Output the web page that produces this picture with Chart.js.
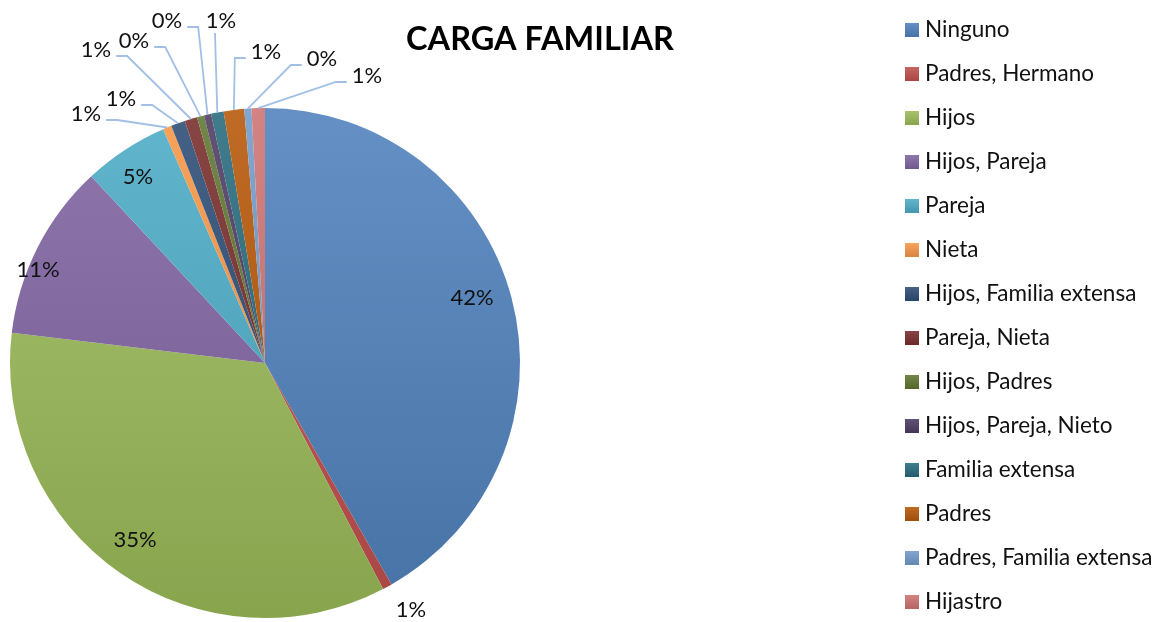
<!DOCTYPE html>
<html lang="es">
<head>
<meta charset="UTF-8">
<title>Carga familiar</title>
<style>
    body { margin: 0; background: #fff; }
    #wrap { position: relative; width: 1165px; height: 622px; }
</style>
</head>
<body>
<div id="wrap"><canvas id="chart"></canvas></div>

<script src="https://cdn.jsdelivr.net/npm/chart.js"></script>
<script>
    const categories = ['Ninguno', 'Padres, Hermano', 'Hijos', 'Hijos, Pareja', 'Pareja', 'Nieta',
        'Hijos, Familia extensa', 'Pareja, Nieta', 'Hijos, Padres', 'Hijos, Pareja, Nieto',
        'Familia extensa', 'Padres', 'Padres, Familia extensa', 'Hijastro'];
    // percent of people
    const shares = [41.8, 0.6, 34.6, 11.2, 5.4, 0.55, 0.9, 0.8, 0.45, 0.45, 0.8, 1.3, 0.45, 0.85];
    const colors = ['#4F81BD', '#C0504D', '#9BBB59', '#8064A2', '#4BACC6', '#F79646', '#2C4D75',
        '#772C2A', '#5F7530', '#4D3B62', '#276A7C', '#B65708', '#729ACA', '#CD7371'];

    // where each percent label sits, relative to the pie centre; side = where the leader leaves from
    const labelSpots = [
        { dx: 207, dy: -65 }, { dx: 146, dy: 247 }, { dx: -130, dy: 177 }, { dx: -227, dy: -93 },
        { dx: -127, dy: -186 },
        { dx: -179, dy: -249, side: 'L' }, { dx: -144, dy: -264, side: 'L' },
        { dx: -169, dy: -313, side: 'L' }, { dx: -131, dy: -322, side: 'L' },
        { dx: -98, dy: -342, side: 'L' }, { dx: -44, dy: -342, side: 'V' },
        { dx: 1, dy: -311, side: 'R' }, { dx: 57, dy: -304, side: 'R' }, { dx: 102, dy: -287, side: 'R' }
    ];

    const FONT = 'Lato, "Liberation Sans", sans-serif';

    function shade(hex, amt) {
        const n = parseInt(hex.slice(1), 16);
        let r = n >> 16, g = (n >> 8) & 255, b = n & 255;
        const f = c => amt >= 0 ? Math.round(c + (255 - c) * amt) : Math.round(c * (1 + amt));
        return `rgb(${f(r)}, ${f(g)}, ${f(b)})`;
    }

    const total = shares.reduce((a, b) => a + b, 0);

    const overlay = {
        id: 'overlay',
        afterDatasetsDraw(chart) {
            const c = chart.ctx;
            const arcs = chart.getDatasetMeta(0).data;
            c.save();
            c.font = '22px ' + FONT;
            c.textAlign = 'center';
            c.textBaseline = 'middle';
            arcs.forEach((arc, i) => {
                const { x, y, startAngle, endAngle, outerRadius } = arc.getProps(['x', 'y', 'startAngle', 'endAngle', 'outerRadius']);
                const spot = labelSpots[i];
                const lx = x + spot.dx, ly = y + spot.dy;
                const text = Math.round(shares[i] / total * 100) + '%';
                if (spot.side) {
                    const mid = (startAngle + endAngle) / 2;
                    const ax = x + Math.cos(mid) * outerRadius;
                    const ay = y + Math.sin(mid) * outerRadius;
                    const w = c.measureText(text).width;
                    c.strokeStyle = '#A2BFE6';
                    c.lineWidth = 1.8;
                    c.beginPath();
                    if (spot.side === 'V') {
                        c.moveTo(lx - 6, ly + 12);
                        c.lineTo(ax, ay);
                    } else {
                        const dir = spot.side === 'L' ? 1 : -1;
                        const sx = lx + dir * (w / 2 + 5), sy = ly + 6;
                        c.moveTo(sx, sy);
                        c.lineTo(sx + dir * 11, sy);
                        c.lineTo(ax, ay);
                    }
                    c.stroke();
                }
                c.fillStyle = '#111';
                c.fillText(text, lx, ly);
            });
            c.restore();
        },
        afterDraw(chart) {
            const c = chart.ctx;
            c.save();
            c.fillStyle = '#000';
            c.textAlign = 'center';
            c.textBaseline = 'middle';
            c.font = 'bold 32.5px ' + FONT;
            c.fillText('CARGA FAMILIAR', 540, 40);

            c.font = '22.5px ' + FONT;
            c.textAlign = 'left';
            categories.forEach((name, i) => {
                const y = 30 + i * 44;
                const g = c.createLinearGradient(0, y - 7, 0, y + 7);
                g.addColorStop(0, shade(colors[i], 0.12));
                g.addColorStop(1, shade(colors[i], -0.12));
                c.fillStyle = g;
                c.fillRect(905, y - 7, 14, 14);
                c.fillStyle = '#111';
                c.fillText(name, 925, y);
            });
            c.restore();
        }
    };

    new Chart(document.getElementById('chart'), {
        type: 'pie',
        data: {
            labels: categories,
            datasets: [{
                data: shares,
                backgroundColor: ctx => {
                    const base = colors[ctx.dataIndex];
                    const area = ctx.chart.chartArea;
                    if (!area) return base;
                    const g = ctx.chart.ctx.createLinearGradient(0, area.top, 0, area.bottom);
                    g.addColorStop(0, shade(base, 0.12));
                    g.addColorStop(1, shade(base, -0.12));
                    return g;
                },
                borderWidth: 0
            }]
        },
        options: {
            responsive: true,
            maintainAspectRatio: false,
            animation: false,
            layout: { padding: { top: 108, bottom: 4, left: 10, right: 645 } },
            plugins: {
                legend: { display: false },
                title: { display: false },
                tooltip: { enabled: false }
            }
        },
        plugins: [overlay]
    });
</script>
</body>
</html>
